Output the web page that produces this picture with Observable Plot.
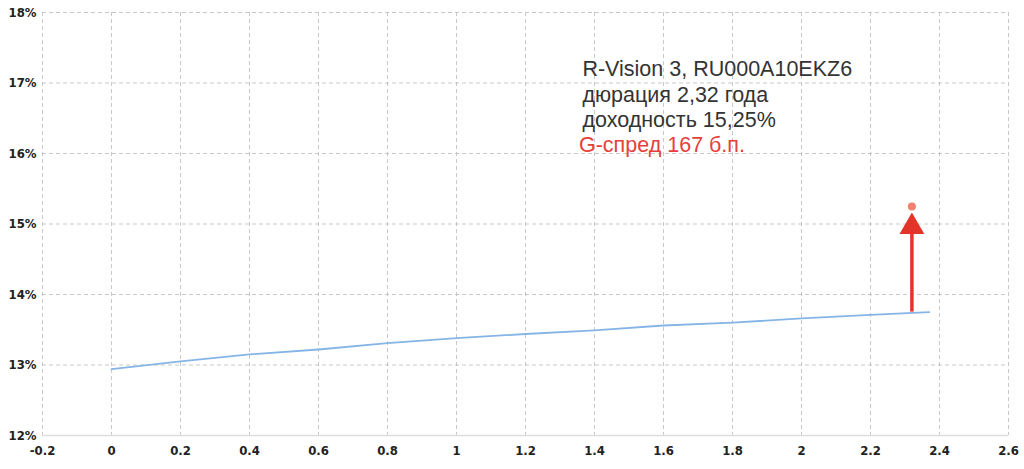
<!DOCTYPE html>
<html>
<head>
<meta charset="utf-8">
<script src="https://cdn.jsdelivr.net/npm/d3@7"></script>
<script src="https://cdn.jsdelivr.net/npm/@observablehq/plot@0.6"></script>
<style>
  html, body { margin: 0; padding: 0; background: #fff; }
  #chart svg { display: block; }
</style>
</head>
<body>
<div id="chart"></div>
<script>
// G-curve (duration in years, yield in %)
const curveDuration = [0, 0.2, 0.4, 0.6, 0.8, 1.0, 1.2, 1.4, 1.6, 1.8, 2.0, 2.2, 2.37];
const curveYield    = [12.94, 13.05, 13.15, 13.22, 13.31, 13.38, 13.44, 13.49, 13.56, 13.60, 13.66, 13.71, 13.75];

// Bond
const bondDuration = [2.32];
const bondYield = [15.25];
const bondCurveYield = [13.75];

// Tick labels
const xTicks = [-0.2, 0, 0.2, 0.4, 0.6, 0.8, 1.0, 1.2, 1.4, 1.6, 1.8, 2.0, 2.2, 2.4, 2.6];
const yTicks = [12, 13, 14, 15, 16, 17, 18];

// Annotation text
const noteLines = ["R-Vision 3, RU000A10EKZ6", "дюрация 2,32 года", "доходность 15,25%"];
const spreadLine = ["G-спред 167 б.п."];

const curve = curveDuration.map((d, i) => ({x: d, y: curveYield[i]}));
const bond = bondDuration.map((d, i) => ({x: d, y: bondYield[i], y0: bondCurveYield[i]}));

const noteX = 1.365, noteY = [17.19, 16.83, 16.47];
const spreadX = 1.355, spreadY = 16.12;
const headY = 14.96, shaftTop = 14.95;

const fmtX = d => String(Math.round(d * 10) / 10).replace("−", "-");

const plot = Plot.plot({
  width: 1024,
  height: 469,
  marginLeft: 42,
  marginRight: 16,
  marginTop: 12,
  marginBottom: 34,
  style: {fontFamily: "'Liberation Sans Narrow', 'DejaVu Sans Condensed', sans-serif", fontSize: "13px", fontWeight: "bold", color: "#222"},
  x: {domain: [-0.2, 2.6], ticks: xTicks, tickFormat: fmtX, label: null},
  y: {domain: [12, 18], ticks: yTicks, tickFormat: d => d + "%", label: null},
  marks: [
    Plot.gridX(xTicks, {stroke: "#bbb", strokeOpacity: 1, strokeDasharray: "4,3", strokeWidth: 0.8}),
    Plot.gridY(yTicks, {stroke: "#bbb", strokeOpacity: 1, strokeDasharray: "4,3", strokeWidth: 0.8}),
    Plot.ruleY([12], {stroke: "#ddd", strokeWidth: 1.5}),
    Plot.axisX(xTicks, {tickSize: 0, tickPadding: 10, tickFormat: fmtX, fontWeight: "bold", fontSize: 13, fill: "#222"}),
    Plot.axisY(yTicks, {tickSize: 0, tickPadding: 6, tickFormat: d => d + "%", fontWeight: "bold", fontSize: 13, fill: "#222"}),
    Plot.line(curve, {x: "x", y: "y", stroke: "#85b5e6", strokeWidth: 1.8}),
    Plot.ruleX(bond, {x: "x", y1: "y0", y2: () => shaftTop, stroke: "#e3342a", strokeWidth: 3.5}),
    Plot.dot(bond, {x: "x", y: () => headY, symbol: "triangle", r: 9.2, fill: "#e3342a", stroke: "none"}),
    Plot.dot(bond, {x: "x", y: "y", r: 4, fill: "#f2806f", stroke: "none"}),
    Plot.text(noteLines, {x: () => noteX, y: (d, i) => noteY[i], text: d => d, textAnchor: "start", fontSize: 21.5, fontWeight: "normal", fill: "#333", fontFamily: "'Liberation Sans', Arial, sans-serif"}),
    Plot.text(spreadLine, {x: () => spreadX, y: () => spreadY, text: d => d, textAnchor: "start", fontSize: 21.5, fontWeight: "normal", fill: "#e6403a", fontFamily: "'Liberation Sans', Arial, sans-serif"})
  ]
});
document.getElementById("chart").appendChild(plot);
</script>
</body>
</html>
